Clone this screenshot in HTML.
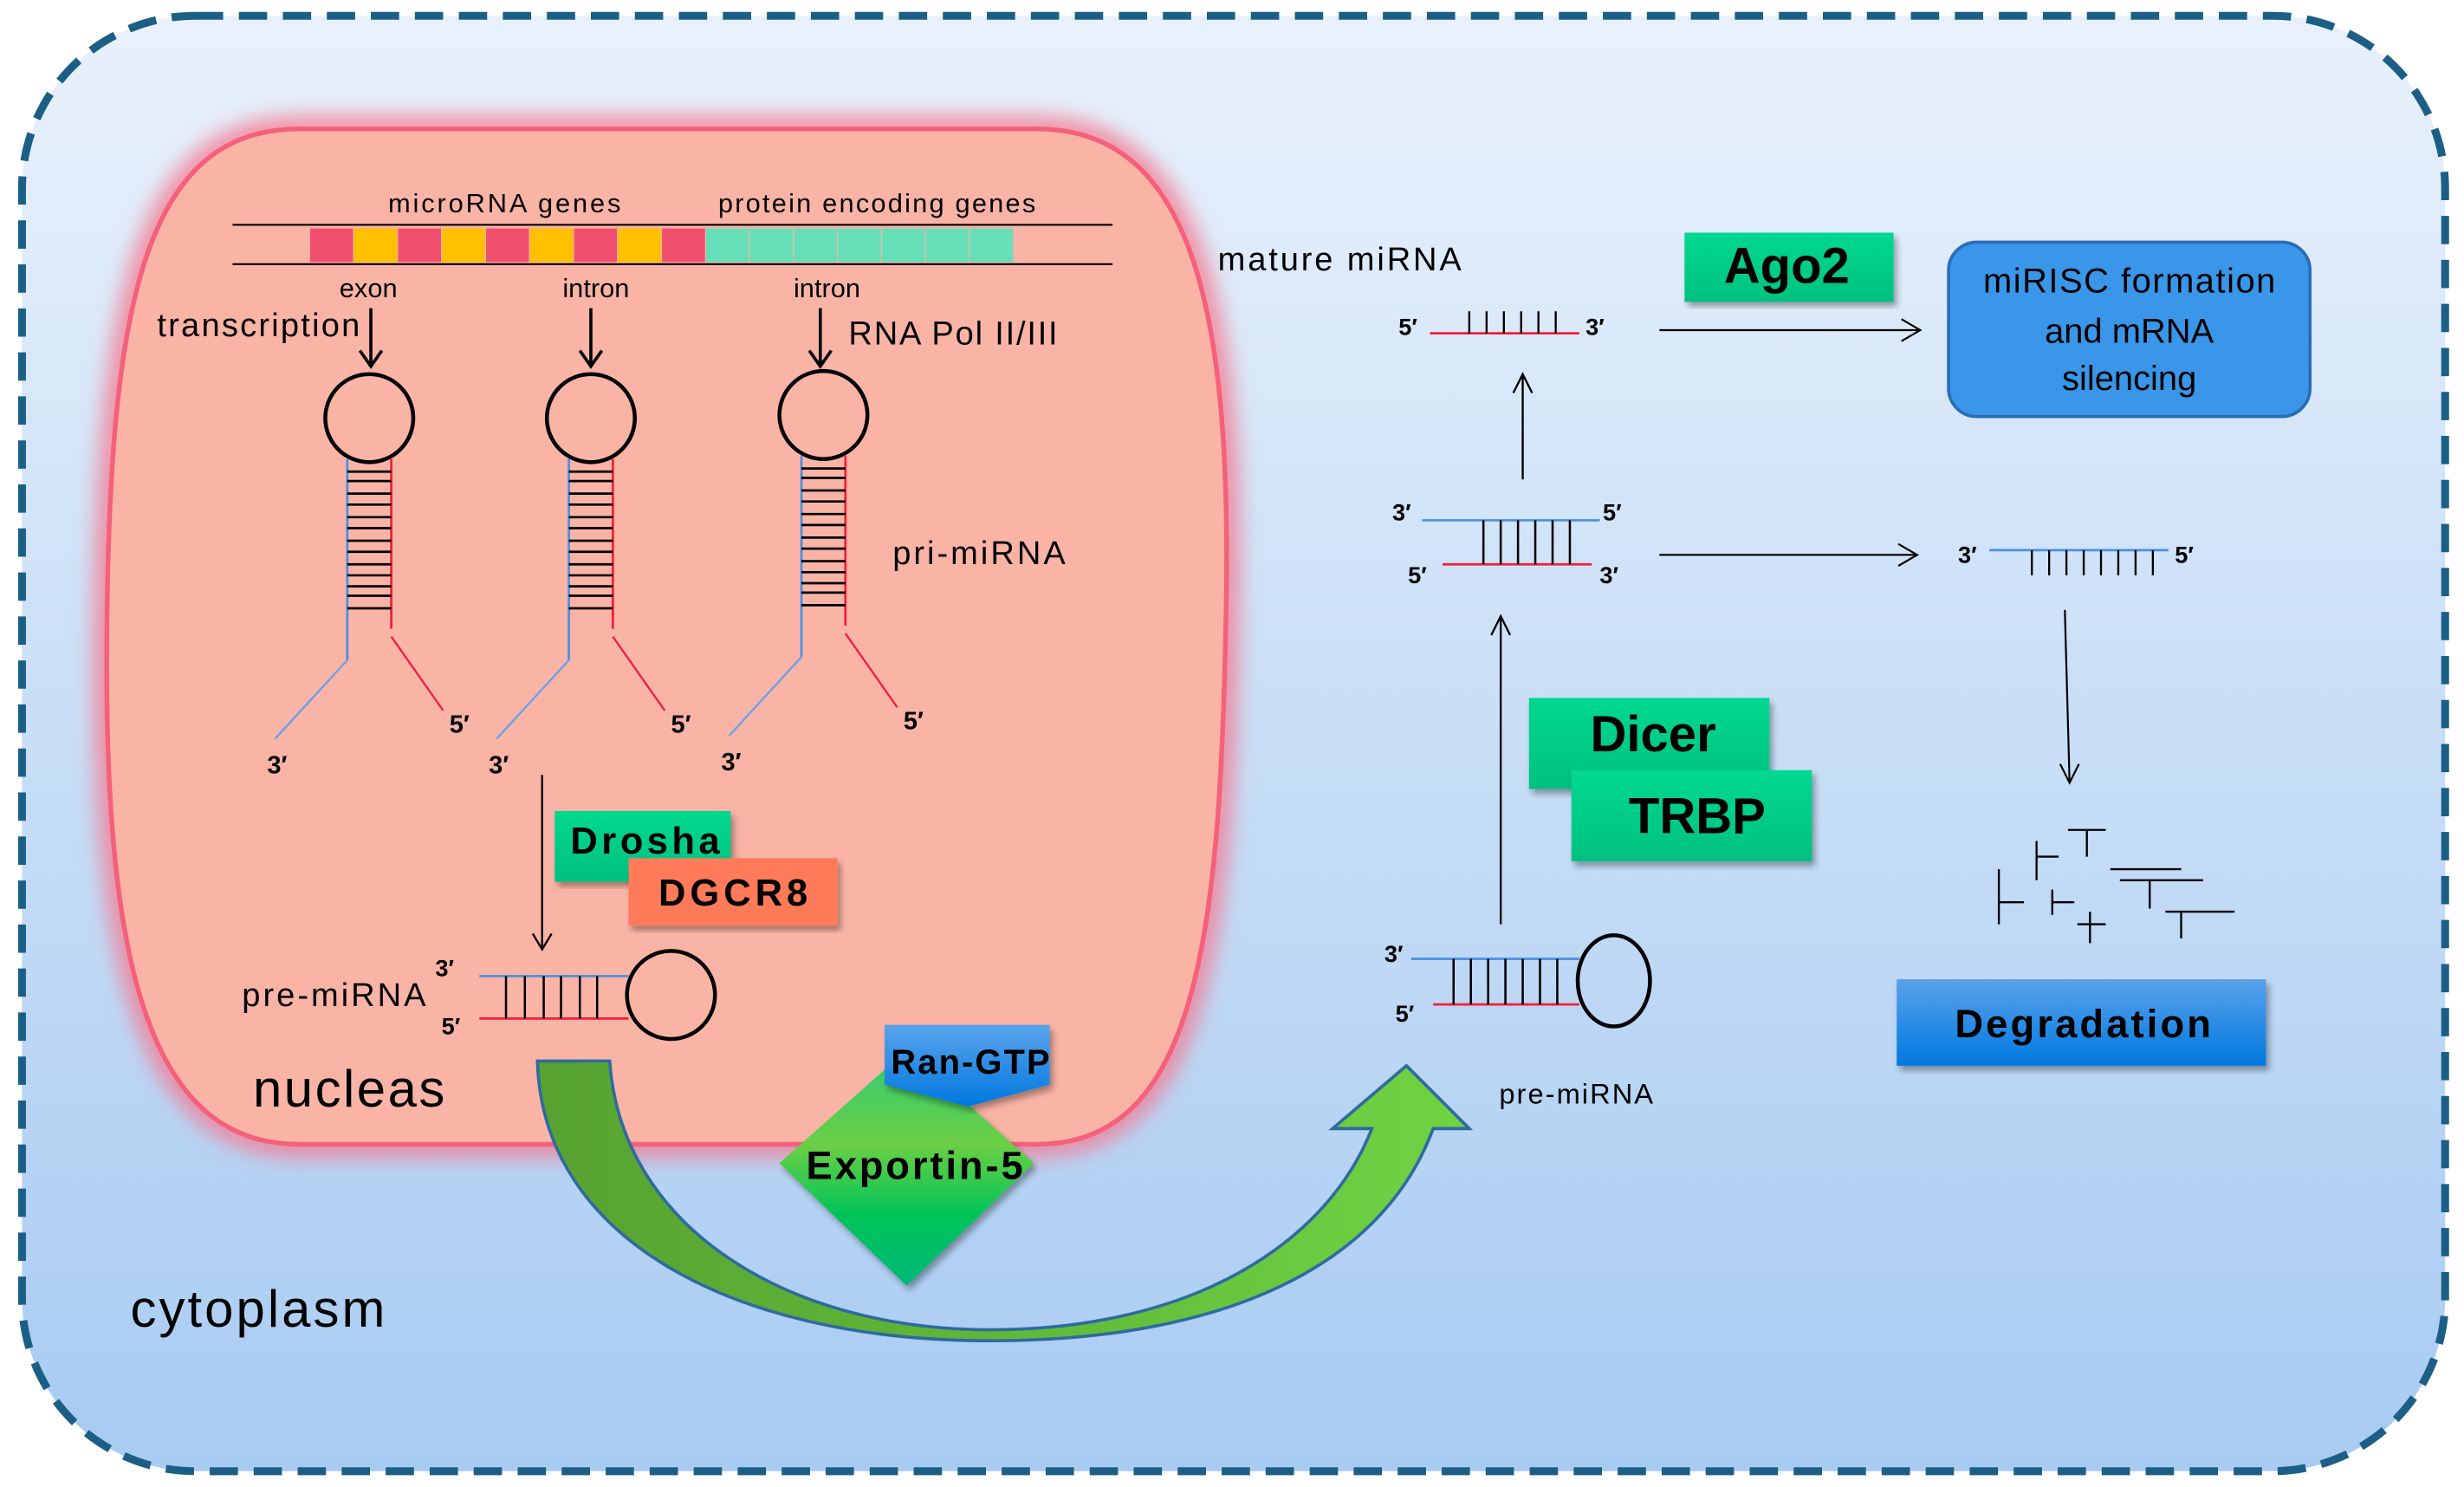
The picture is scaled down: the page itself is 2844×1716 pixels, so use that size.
<!DOCTYPE html>
<html><head><meta charset="utf-8"><style>html,body{margin:0;padding:0;background:#fff}svg{display:block}</style></head>
<body>
<svg width="2844" height="1716" viewBox="0 0 1568 946" xmlns="http://www.w3.org/2000/svg" font-family="Liberation Sans, Arial, sans-serif">
<defs>
<linearGradient id="bg" x1="0" y1="0" x2="0" y2="1"><stop offset="0" stop-color="#e8f1fb"/><stop offset="1" stop-color="#a8cbf2"/></linearGradient>
<linearGradient id="arr" x1="0" y1="0" x2="1" y2="0"><stop offset="0" stop-color="#58a232"/><stop offset="0.5" stop-color="#5fb838"/><stop offset="1" stop-color="#70d444"/></linearGradient>
<linearGradient id="dia" x1="0" y1="0" x2="0" y2="1"><stop offset="0" stop-color="#2ecc7a"/><stop offset="0.4" stop-color="#6ccf44"/><stop offset="0.7" stop-color="#00c458"/><stop offset="1" stop-color="#00b87a"/></linearGradient>
<linearGradient id="blu" x1="0" y1="0" x2="0" y2="1"><stop offset="0" stop-color="#5aa2ea"/><stop offset="1" stop-color="#0078e0"/></linearGradient>
<linearGradient id="grn" x1="0" y1="0" x2="0" y2="1"><stop offset="0" stop-color="#00d890"/><stop offset="1" stop-color="#00c080"/></linearGradient>
<filter id="glow" x="-10%" y="-10%" width="120%" height="120%"><feGaussianBlur stdDeviation="7"/></filter>
<filter id="sh"><feDropShadow dx="2" dy="3" stdDeviation="2" flood-opacity="0.35"/></filter>
</defs>
<rect x="14" y="10" width="1542" height="926" rx="110" fill="url(#bg)" stroke="#1b5f86" stroke-width="5" stroke-dasharray="18,10"/>
<!-- nucleus -->
<path d="M190,82 L660,82 C760,82 785,200 780,400 C776,600 760,728 660,728 L190,728 C90,728 66,600 68,400 C70,200 90,82 190,82 Z" fill="none" stroke="#f47a90" stroke-width="14" filter="url(#glow)"/>
<path d="M190,82 L660,82 C760,82 785,200 780,400 C776,600 760,728 660,728 L190,728 C90,728 66,600 68,400 C70,200 90,82 190,82 Z" fill="#fab4a6" stroke="#f5607a" stroke-width="3"/>
<!-- genes -->
<line x1="148" y1="143" x2="708" y2="143" stroke="#000" stroke-width="1.2"/>
<line x1="148" y1="168" x2="708" y2="168" stroke="#000" stroke-width="1.2"/>
<g stroke="#fab4a6" stroke-width="0.6">
<rect x="197" y="145" width="28" height="22" fill="#f0506e"/><rect x="225" y="145" width="28" height="22" fill="#ffc000"/>
<rect x="253" y="145" width="28" height="22" fill="#f0506e"/><rect x="281" y="145" width="28" height="22" fill="#ffc000"/>
<rect x="309" y="145" width="28" height="22" fill="#f0506e"/><rect x="337" y="145" width="28" height="22" fill="#ffc000"/>
<rect x="365" y="145" width="28" height="22" fill="#f0506e"/><rect x="393" y="145" width="28" height="22" fill="#ffc000"/>
<rect x="421" y="145" width="28" height="22" fill="#f0506e"/>
<rect x="449" y="145" width="28" height="22" fill="#66dfb8"/><rect x="477" y="145" width="28" height="22" fill="#66dfb8"/>
<rect x="505" y="145" width="28" height="22" fill="#66dfb8"/><rect x="533" y="145" width="28" height="22" fill="#66dfb8"/>
<rect x="561" y="145" width="28" height="22" fill="#66dfb8"/><rect x="589" y="145" width="28" height="22" fill="#66dfb8"/>
<rect x="617" y="145" width="28" height="22" fill="#66dfb8"/>
</g>
<g font-size="17" fill="#000">
<text x="247" y="135" textLength="148">microRNA genes</text><text x="457" y="135" textLength="202">protein encoding  genes</text>
<text x="216" y="189">exon</text><text x="358" y="189">intron</text><text x="505" y="189">intron</text>
</g>
<g font-size="21" fill="#000">
<text x="100" y="214" textLength="129">transcription</text><text x="540" y="219" textLength="133">RNA Pol II/III</text><text x="568" y="359" textLength="110">pri-miRNA</text>
<text x="154" y="640" textLength="117">pre-miRNA</text><text x="775" y="172" textLength="155">mature miRNA</text>
</g>
<text x="161" y="704" font-size="33" textLength="122">nucleas</text>
<text x="83" y="844" font-size="33" textLength="162">cytoplasm</text>
<!-- transcription arrows -->
<g stroke="#000" stroke-width="2" fill="none">
<path d="M236,196 V232 M229,223 L236,233 L243,223"/>
<path d="M376,196 V232 M369,223 L376,233 L383,223"/>
<path d="M522,196 V232 M515,223 L522,233 L529,223"/>
</g>
<!-- hairpins -->
<g id="hp">
<circle cx="235" cy="266" r="28" fill="none" stroke="#000" stroke-width="2.5"/>
<line x1="221" y1="292" x2="221" y2="420" stroke="#4a90e2" stroke-width="1.5"/>
<line x1="249" y1="292" x2="249" y2="400" stroke="#f0203a" stroke-width="1.5"/>
<path d="M221,420 L175,470" stroke="#6aa0e8" stroke-width="1.3"/>
<path d="M249,405 L282,452" stroke="#f0203a" stroke-width="1.3"/>
<g stroke="#000" stroke-width="1.5">
<line x1="221" y1="300" x2="249" y2="300"/><line x1="221" y1="306" x2="249" y2="306"/><line x1="221" y1="314" x2="249" y2="314"/>
<line x1="221" y1="321" x2="249" y2="321"/><line x1="221" y1="329" x2="249" y2="329"/><line x1="221" y1="336" x2="249" y2="336"/>
<line x1="221" y1="344" x2="249" y2="344"/><line x1="221" y1="351" x2="249" y2="351"/><line x1="221" y1="359" x2="249" y2="359"/>
<line x1="221" y1="366" x2="249" y2="366"/><line x1="221" y1="373" x2="249" y2="373"/><line x1="221" y1="379" x2="249" y2="379"/>
<line x1="221" y1="387" x2="249" y2="387"/>
</g>
<text x="286" y="466" font-size="16" font-weight="bold">5′</text>
<text x="170" y="492" font-size="16" font-weight="bold">3′</text>
</g>
<use href="#hp" x="141"/>
<use href="#hp" x="289" y="-2"/>
<!-- drosha arrow -->
<path d="M345,493 V603 M339,594 L345,604 L351,594" stroke="#000" stroke-width="1.3" fill="none"/>
<rect x="353" y="516" width="112" height="45" fill="url(#grn)" filter="url(#sh)"/>
<text x="363" y="543" font-size="24" font-weight="bold" textLength="95">Drosha</text>
<rect x="400" y="546" width="133" height="43" fill="#ff7a58" filter="url(#sh)"/>
<text x="419" y="576" font-size="24" font-weight="bold" textLength="95">DGCR8</text>
<!-- pre-miRNA nucleus -->
<line x1="305" y1="621" x2="400" y2="621" stroke="#4a90e2" stroke-width="1.5"/>
<line x1="305" y1="648" x2="400" y2="648" stroke="#f0203a" stroke-width="1.5"/>
<g stroke="#000" stroke-width="1.4"><line x1="322" y1="621" x2="322" y2="648"/><line x1="334" y1="621" x2="334" y2="648"/><line x1="346" y1="621" x2="346" y2="648"/><line x1="357" y1="621" x2="357" y2="648"/><line x1="369" y1="621" x2="369" y2="648"/><line x1="380" y1="621" x2="380" y2="648"/></g>
<circle cx="427" cy="633" r="28" fill="none" stroke="#000" stroke-width="2.5"/>
<text x="277" y="621" font-size="15" font-weight="bold">3′</text><text x="281" y="658" font-size="15" font-weight="bold">5′</text>
<!-- big arrow -->
<path d="M342,675 L388,675 C395,780 500,846 630,846 C760,846 845,790 873,718 L848,718 L895,678 L935,718 L912,718 C880,805 780,853 630,853 C470,853 345,790 342,675 Z" fill="url(#arr)" stroke="#2f6aa0" stroke-width="2"/>
<!-- exportin -->
<polygon points="577,668 658,740 577,818 496,740" fill="url(#dia)" filter="url(#sh)"/>
<text x="513" y="750" font-size="25" font-weight="bold" textLength="138">Exportin-5</text>
<polygon points="563,652 668,652 668,690 616,704 563,690" fill="url(#blu)" filter="url(#sh)"/>
<text x="567" y="683" font-size="22" font-weight="bold" textLength="101">Ran-GTP</text>
<!-- cytoplasm pre-miRNA -->
<line x1="898" y1="610" x2="1005" y2="610" stroke="#4a90e2" stroke-width="1.5"/>
<line x1="912" y1="639" x2="1005" y2="639" stroke="#f0203a" stroke-width="1.5"/>
<g stroke="#000" stroke-width="1.4"><line x1="925" y1="610" x2="925" y2="639"/><line x1="936" y1="610" x2="936" y2="639"/><line x1="947" y1="610" x2="947" y2="639"/><line x1="958" y1="610" x2="958" y2="639"/><line x1="969" y1="610" x2="969" y2="639"/><line x1="980" y1="610" x2="980" y2="639"/><line x1="991" y1="610" x2="991" y2="639"/></g>
<ellipse cx="1027" cy="624" rx="23" ry="29" fill="none" stroke="#000" stroke-width="2.5"/>
<text x="881" y="612" font-size="15" font-weight="bold">3′</text><text x="888" y="650" font-size="15" font-weight="bold">5′</text>
<text x="954" y="702" font-size="18" textLength="98">pre-miRNA</text>
<!-- up arrows -->
<path d="M955,588 V392 M949,404 L955,392 L961,404" stroke="#000" stroke-width="1.3" fill="none"/>
<path d="M969,305 V238 M963,250 L969,238 L975,250" stroke="#000" stroke-width="1.3" fill="none"/>
<rect x="973" y="444" width="153" height="58" fill="url(#grn)" filter="url(#sh)"/>
<text x="1052" y="478" font-size="32" font-weight="bold" text-anchor="middle">Dicer</text>
<rect x="1000" y="490" width="153" height="58" fill="url(#grn)" filter="url(#sh)"/>
<text x="1080" y="530" font-size="32" font-weight="bold" text-anchor="middle">TRBP</text>
<!-- duplex -->
<line x1="905" y1="331" x2="1018" y2="331" stroke="#4a90e2" stroke-width="1.5"/>
<line x1="918" y1="359" x2="1013" y2="359" stroke="#f0203a" stroke-width="1.5"/>
<g stroke="#000" stroke-width="1.4"><line x1="944" y1="331" x2="944" y2="359"/><line x1="955" y1="331" x2="955" y2="359"/><line x1="966" y1="331" x2="966" y2="359"/><line x1="977" y1="331" x2="977" y2="359"/><line x1="988" y1="331" x2="988" y2="359"/><line x1="999" y1="331" x2="999" y2="359"/></g>
<g font-size="15" font-weight="bold"><text x="886" y="331">3′</text><text x="1020" y="331">5′</text><text x="896" y="371">5′</text><text x="1018" y="371">3′</text></g>
<!-- mature -->
<line x1="910" y1="212" x2="1005" y2="212" stroke="#f0203a" stroke-width="1.5"/>
<g stroke="#000" stroke-width="1.3"><line x1="935" y1="198" x2="935" y2="212"/><line x1="946" y1="198" x2="946" y2="212"/><line x1="957" y1="198" x2="957" y2="212"/><line x1="968" y1="198" x2="968" y2="212"/><line x1="979" y1="198" x2="979" y2="212"/><line x1="990" y1="198" x2="990" y2="212"/></g>
<g font-size="15" font-weight="bold"><text x="890" y="213">5′</text><text x="1009" y="213">3′</text></g>
<path d="M1056,210 H1222 M1210,203 L1222,210 L1210,217" stroke="#000" stroke-width="1.2" fill="none"/>
<path d="M1056,353 H1220 M1208,346 L1220,353 L1208,360" stroke="#000" stroke-width="1.2" fill="none"/>
<rect x="1072" y="148" width="133" height="44" fill="url(#grn)" filter="url(#sh)"/>
<text x="1137" y="180" font-size="32" font-weight="bold" text-anchor="middle">Ago2</text>
<rect x="1240" y="154" width="230" height="111" rx="18" fill="#3a96e8" stroke="#2a6cb8" stroke-width="2"/>
<g font-size="22" fill="#000" text-anchor="middle"><text x="1355" y="186" textLength="186">miRISC formation</text><text x="1355" y="218">and mRNA</text><text x="1355" y="248">silencing</text></g>
<!-- passenger strand -->
<line x1="1266" y1="350" x2="1380" y2="350" stroke="#4a90e2" stroke-width="1.5"/>
<g stroke="#000" stroke-width="1.3"><line x1="1293" y1="350" x2="1293" y2="366"/><line x1="1304" y1="350" x2="1304" y2="366"/><line x1="1315" y1="350" x2="1315" y2="366"/><line x1="1326" y1="350" x2="1326" y2="366"/><line x1="1337" y1="350" x2="1337" y2="366"/><line x1="1348" y1="350" x2="1348" y2="366"/><line x1="1359" y1="350" x2="1359" y2="366"/><line x1="1370" y1="350" x2="1370" y2="366"/></g>
<g font-size="15" font-weight="bold"><text x="1246" y="358">3′</text><text x="1384" y="358">5′</text></g>
<path d="M1314,388 L1317,498 M1311,486 L1317,498 L1323,486" stroke="#000" stroke-width="1.2" fill="none"/>
<!-- fragments -->
<g stroke="#000" stroke-width="1.3" fill="none">
<path d="M1296,535 V560 M1296,545 H1310"/><path d="M1316,528 H1340 M1328,528 V545"/>
<path d="M1343,553 H1388"/><path d="M1349,560 H1402 M1368,560 V578"/>
<path d="M1272,553 V588 M1272,574 H1288"/><path d="M1306,566 V582 M1306,574 H1320"/>
<path d="M1322,588 H1340 M1330,580 V600"/><path d="M1378,580 H1422 M1388,580 V597"/>
</g>
<rect x="1207" y="623" width="235" height="55" fill="url(#blu)" filter="url(#sh)"/>
<text x="1244" y="660" font-size="25" font-weight="bold" textLength="163">Degradation</text>
</svg>
</body></html>
